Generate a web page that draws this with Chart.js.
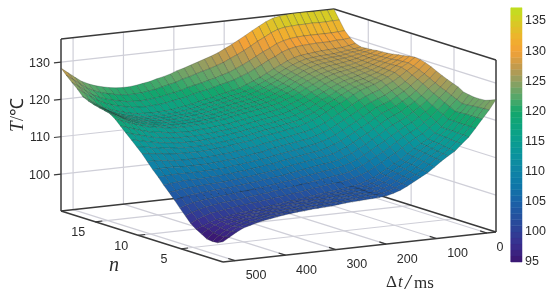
<!DOCTYPE html>
<html>
<head>
<meta charset="utf-8">
<style>
  html, body { margin: 0; background: #fff; }
  canvas { display: block; }
</style>
<script src="https://cdn.jsdelivr.net/npm/chart.js@4"></script>
</head>
<body>
<canvas id="chart" width="550" height="299"></canvas>
<script>
// tick labels
const tempTicks = [100, 110, 120, 130];
const nTicks = [5, 10, 15];
const dtTicks = [0, 100, 200, 300, 400, 500];
const barTicks = [95, 100, 105, 110, 115, 120, 125, 130, 135];

// axis limits
const dtLimits = [-18, 524];
const nLimits = [0.1, 19];
const tempLimits = [90.1, 136.2];

// surface mesh positions
const dtGrid = [524,510.5,496.9,483.4,469.8,456.3,442.7,429.2,415.6,402.1,388.5,375,361.4,347.9,334.3,320.8,307.2,293.7,280.1,266.6,253,239.5,225.9,212.4,198.8,185.3,171.7,158.2,144.6,131.1,117.5,104,90.4,76.9,63.3,49.8,36.2,22.7,9.1,-4.4,-18];
const nGrid = [19,18.37,17.74,17.11,16.48,15.85,15.22,14.59,13.96,13.33,12.7,12.07,11.44,10.81,10.18,9.55,8.92,8.29,7.66,7.03,6.4,5.77,5.14,4.51,3.88,3.25,2.62,1.99,1.36,0.73,0.1];

// T, one row per n, one column per dt
const tempRows = [
[128.4,127,125.6,124.3,123.4,122.7,122.2,121.8,121.5,121.4,121.4,121.6,121.9,122.2,122.7,123.1,123.6,124.3,124.8,125.4,126,126.6,127.2,127.9,128.8,129.7,130.7,131.7,132.8,133.8,134.8,135.5,135.9,136.1,136.2,136.2,136.2,136.1,136.1,136.1,136.1],
[126.9,125.6,124.2,122.9,122,121.3,120.8,120.4,120.1,119.9,119.9,120,120.3,120.5,121,121.4,121.8,122.5,122.9,123.5,124,124.5,125.1,125.7,126.6,127.4,128.3,129.3,130.4,131.3,132.3,133,133.4,133.5,133.6,133.6,133.7,133.6,133.6,133.7,133.7],
[125.5,124.2,122.9,121.6,120.7,120,119.5,119.1,118.7,118.6,118.5,118.6,118.8,119,119.4,119.7,120.1,120.7,121.1,121.5,122,122.4,123,123.5,124.3,125.1,126,127,128,128.8,129.8,130.4,130.8,131,131.1,131.1,131.1,131.1,131.1,131.2,131.3],
[124.2,123,121.7,120.5,119.6,118.9,118.4,118,117.6,117.5,117.4,117.5,117.6,117.8,118.2,118.5,118.8,119.4,119.8,120.1,120.6,121.1,121.5,122,122.7,123.4,124.3,125.2,126.2,127,128,128.6,129,129.2,129.3,129.4,129.4,129.4,129.6,129.6,129.8],
[122.6,121.4,120.3,119.1,118.3,117.7,117.2,116.7,116.4,116.3,116.2,116.2,116.3,116.4,116.7,117,117.3,117.8,118.2,118.5,119,119.4,119.8,120.2,121,121.7,122.5,123.4,124.4,125.2,126.1,126.8,127.2,127.4,127.6,127.8,127.9,128,128.1,128.4,128.8],
[121.9,120.8,119.7,118.6,117.8,117.2,116.7,116.3,116,115.9,115.8,115.8,116,116.1,116.4,116.7,117,117.5,117.8,118.2,118.6,119,119.3,119.8,120.5,121.2,122,122.8,123.8,124.7,125.5,126.2,126.7,126.9,127.1,127.2,127.3,127.5,127.8,128,128.3],
[121.4,120.4,119.4,118.4,117.6,117,116.6,116.2,115.9,115.8,115.7,115.7,115.9,116,116.2,116.5,116.8,117.3,117.6,118,118.3,118.7,119,119.5,120.1,120.8,121.6,122.4,123.4,124.3,125.1,125.8,126.3,126.6,126.8,127,127.1,127.4,127.8,128,128.4],
[121,120.1,119.1,118.1,117.4,116.8,116.4,116.1,115.8,115.7,115.6,115.6,115.8,115.9,116.1,116.3,116.6,117.1,117.4,117.7,118.1,118.4,118.8,119.2,119.8,120.5,121.2,122,123,123.9,124.8,125.5,126,126.3,126.5,126.8,127,127.3,127.7,128.1,128.5],
[120.7,119.7,118.9,117.9,117.2,116.7,116.3,115.9,115.7,115.6,115.5,115.5,115.6,115.7,115.9,116.2,116.4,116.8,117.1,117.5,117.8,118.2,118.5,118.9,119.4,120.1,120.9,121.7,122.7,123.6,124.4,125.1,125.6,126,126.2,126.5,126.8,127.2,127.7,128.1,128.7],
[120.3,119.3,118.5,117.6,117,116.5,116.1,115.8,115.5,115.4,115.4,115.4,115.5,115.6,115.8,116,116.2,116.6,116.9,117.3,117.6,117.9,118.2,118.6,119.1,119.8,120.5,121.3,122.3,123.2,124,124.7,125.2,125.6,125.9,126.2,126.6,127.1,127.6,128.1,128.8],
[119.3,118.6,117.9,117.2,116.6,116.2,115.9,115.6,115.3,115.2,115.1,115.2,115.3,115.4,115.6,115.8,116,116.4,116.7,117,117.3,117.6,117.9,118.2,118.7,119.4,120.1,120.9,121.9,122.7,123.6,124.3,124.9,125.3,125.6,126,126.4,127,127.6,128.2,128.9],
[117.9,117.3,116.7,116.1,115.6,115.2,115,114.7,114.5,114.4,114.3,114.5,114.6,114.7,114.9,115.1,115.3,115.7,116,116.3,116.6,116.9,117.3,117.6,118.1,118.8,119.5,120.3,121.3,122.1,123.1,123.8,124.5,124.9,125.3,125.8,126.2,126.9,127.6,128.3,129.1],
[116.5,116,115.5,115,114.5,114.2,114,113.8,113.6,113.6,113.6,113.7,113.8,114,114.2,114.4,114.6,115,115.4,115.7,116,116.3,116.6,116.9,117.5,118.1,118.9,119.7,120.7,121.6,122.5,123.3,124,124.5,125,125.5,126.1,126.8,127.7,128.4,129.4],
[115.1,114.7,114.3,113.9,113.5,113.3,113.1,112.9,112.8,112.8,112.8,113,113.1,113.3,113.5,113.8,114,114.4,114.7,115,115.3,115.6,116,116.3,116.8,117.5,118.2,119.2,120.2,121,122,122.9,123.6,124.2,124.6,125.3,125.9,126.8,127.7,128.6,129.6],
[113.7,113.4,113.1,112.8,112.5,112.3,112.2,112,112,112,112,112.2,112.4,112.5,112.8,113.1,113.3,113.7,114.1,114.4,114.7,115,115.4,115.7,116.2,116.9,117.6,118.6,119.6,120.5,121.5,122.4,123.2,123.8,124.3,125,125.8,126.7,127.8,128.7,129.9],
[112.3,112.1,111.9,111.7,111.4,111.3,111.2,111.2,111.1,111.2,111.3,111.5,111.6,111.9,112.1,112.4,112.6,113.1,113.4,113.7,114,114.3,114.7,115,115.6,116.2,117,118,119,119.9,120.9,121.9,122.8,123.4,124,124.8,125.6,126.6,127.8,128.8,130.1],
[110.6,110.6,110.5,110.3,110.1,110,110,110,110,110.1,110.2,110.4,110.5,110.8,111,111.3,111.5,112,112.3,112.6,112.9,113.2,113.6,113.9,114.4,115,115.8,116.8,117.8,118.7,119.8,120.8,121.7,122.4,123,124.1,124.9,126,127.3,128.4,129.9],
[108.9,109,109,109,108.8,108.8,108.8,108.8,108.8,109,109.1,109.3,109.4,109.7,109.9,110.2,110.4,110.9,111.2,111.5,111.8,112.1,112.4,112.7,113.2,113.9,114.6,115.6,116.6,117.6,118.6,119.7,120.6,121.3,122,123,123.9,125.1,126.6,127.9,129.5],
[107.4,107.5,107.6,107.6,107.6,107.6,107.6,107.7,107.7,107.8,107.9,108.2,108.3,108.6,108.8,109.1,109.3,109.7,110,110.3,110.6,110.9,111.3,111.6,112.1,112.7,113.5,114.5,115.5,116.4,117.5,118.5,119.6,120.3,121,122.1,123.1,124.4,125.9,127.2,128.9],
[105.7,105.9,106.1,106.3,106.3,106.3,106.4,106.5,106.5,106.7,106.8,107.1,107.2,107.5,107.7,108,108.2,108.6,108.9,109.2,109.5,109.8,110.1,110.4,110.9,111.6,112.3,113.3,114.3,115.3,116.3,117.4,118.5,119.2,120,121.1,122.2,123.5,125.2,126.5,128.2],
[104.2,104.4,104.7,104.9,105,105.1,105.2,105.3,105.4,105.6,105.7,106,106.1,106.4,106.6,106.9,107.1,107.5,107.8,108.1,108.4,108.7,109,109.3,109.7,110.4,111.1,112.1,113.1,114.1,115.2,116.3,117.4,118.2,119,120.2,121.3,122.7,124.3,125.7,127.5],
[102.6,103,103.4,103.6,103.8,103.9,104.1,104.2,104.3,104.5,104.7,104.9,105.1,105.4,105.6,105.8,106,106.4,106.7,107,107.3,107.6,107.9,108.1,108.5,109.2,109.9,110.9,111.9,113,114,115.2,116.3,117.1,118,119.2,120.4,121.9,123.5,125,126.9],
[100.9,101.5,102,102.3,102.5,102.7,102.9,103.1,103.2,103.5,103.6,103.9,104,104.3,104.5,104.8,105,105.3,105.6,105.9,106.2,106.5,106.7,107,107.4,108,108.7,109.7,110.7,111.8,112.8,114,115.1,116.1,117,118.2,119.5,121,122.8,124.4,126.3],
[99.3,100,100.6,101.1,101.3,101.6,101.8,102,102.1,102.4,102.6,102.8,103,103.3,103.5,103.7,103.9,104.3,104.5,104.8,105,105.3,105.6,105.8,106.2,106.9,107.6,108.6,109.6,110.6,111.7,112.9,114,115,115.9,117.3,118.6,120.2,122,123.7,125.8],
[97.7,98.6,99.3,99.9,100.1,100.4,100.7,100.9,101.1,101.4,101.5,101.8,102,102.2,102.4,102.7,102.9,103.2,103.5,103.7,104,104.2,104.4,104.7,105.1,105.7,106.4,107.4,108.4,109.5,110.5,111.7,112.9,114,114.9,116.3,117.6,119.4,121.3,123.1,124.9],
[96.6,97.3,98,98.6,98.9,99.3,99.6,99.8,100,100.3,100.5,100.7,100.9,101.2,101.4,101.6,101.8,102.1,102.4,102.6,102.8,103.1,103.3,103.5,103.9,104.5,105.2,106.2,107.2,108.3,109.3,110.6,111.8,112.9,113.9,115.3,116.7,118.6,120.5,122.4,124.6],
[95.8,96.9,97.8,98.5,98.9,99.2,99.6,99.8,100.1,100.3,100.6,100.8,101,101.3,101.5,101.6,101.8,102.1,102.4,102.6,102.7,103,103.2,103.4,103.7,104.3,105,106,107,108,109,110.3,111.6,112.7,113.7,115.2,116.6,118.6,120.6,122.5,124.4],
[94.9,96.4,97.5,98.3,98.8,99.2,99.6,99.9,100.1,100.4,100.7,100.9,101.1,101.4,101.6,101.7,101.9,102.1,102.3,102.5,102.7,102.9,103.1,103.3,103.6,104.1,104.8,105.8,106.8,107.8,108.8,110.1,111.4,112.5,113.6,115.1,116.6,118.5,120.7,122.7,124.4],
[94.7,96.1,97.3,98.2,98.8,99.3,99.7,100,100.3,100.6,100.8,101,101.2,101.4,101.6,101.8,101.9,102.1,102.3,102.5,102.6,102.8,103,103.1,103.3,103.9,104.5,105.4,106.5,107.5,108.5,109.8,111.1,112.2,113.3,114.9,116.5,118.5,120.7,122.8,124.5],
[94.8,96.2,97.4,98.4,98.9,99.4,99.8,100.2,100.4,100.7,100.9,101.1,101.3,101.5,101.6,101.8,101.9,102.1,102.2,102.4,102.5,102.7,102.9,103,103.2,103.7,104.3,105.2,106.2,107.2,108.2,109.5,110.9,112,113.1,114.8,116.4,118.5,120.7,122.9,125],
[95.5,96.6,97.7,98.6,99.1,99.6,100,100.3,100.6,100.9,101.1,101.3,101.4,101.6,101.7,101.8,101.9,102.1,102.3,102.4,102.5,102.6,102.7,102.8,103,103.5,104.1,105,106,107,108,109.3,110.7,111.9,113,114.7,116.3,118.5,120.8,123,125.6]
];

// colour bar levels and the colours at the stops of the map
const barLevels = [95,96,97,98,99,100,101,102,103,104,105,106,107,108,109,110,111,112,113,114,115,116,117,118,119,120,121,122,123,124,125,126,127,128,129,130,131,132,133,134,135,136,137,137.2];
const colorLevels = [95, 98, 100, 105, 108, 110, 113, 116, 120, 122, 125, 127, 130, 132, 135, 137.2];
const colorHex = ['#3b1470','#3a2f8f','#2f3f96','#1a62a8','#0d7aa8','#0f83a6','#0a959c','#0aa18a','#13a76b','#4da86a','#8f9f62','#b99a50','#f3a137','#f0b02e','#d6cc24','#bfe020'];

function hexToRgb(h) {
  return [parseInt(h.slice(1, 3), 16), parseInt(h.slice(3, 5), 16), parseInt(h.slice(5, 7), 16)];
}

function tempColor(t) {
  let i = 0;
  while (i < colorLevels.length - 2 && t > colorLevels[i + 1]) i++;
  const f = Math.min(1, Math.max(0, (t - colorLevels[i]) / (colorLevels[i + 1] - colorLevels[i])));
  const a = hexToRgb(colorHex[i]);
  const b = hexToRgb(colorHex[i + 1]);
  return 'rgb(' + a.map((v, k) => Math.round(v + (b[k] - v) * f)).join(',') + ')';
}

// oblique view of the box, result goes through the chart's x and y scales
function project(dt, n, t) {
  const u = (dtLimits[1] - dt) / (dtLimits[1] - dtLimits[0]);
  const v = (n - nLimits[0]) / (nLimits[1] - nLimits[0]);
  const w = (t - tempLimits[0]) / (tempLimits[1] - tempLimits[0]);
  return { x: 223 + 273 * u - 162 * v, y: 262 - 30 * u - 51 * v - 172 * w };
}

function lineSet(a, b, color, width) {
  return { data: [a, b], showLine: true, fill: false, borderColor: color, borderWidth: width, pointRadius: 0 };
}

const [dtLo, dtHi] = dtLimits;
const [nLo, nHi] = nLimits;
const [tLo, tHi] = tempLimits;
const gridColor = '#cfcfd8';
const boxColor = '#3a3a3a';
const sets = [];

// back walls and floor grid
dtTicks.forEach(d => {
  sets.push(lineSet(project(d, nHi, tLo), project(d, nHi, tHi), gridColor, 1.2));
  sets.push(lineSet(project(d, nLo, tLo), project(d, nHi, tLo), gridColor, 1.2));
});
nTicks.forEach(n => {
  sets.push(lineSet(project(dtLo, n, tLo), project(dtLo, n, tHi), gridColor, 1.2));
  sets.push(lineSet(project(dtLo, n, tLo), project(dtHi, n, tLo), gridColor, 1.2));
});
tempTicks.forEach(t => {
  sets.push(lineSet(project(dtHi, nHi, t), project(dtLo, nHi, t), gridColor, 1.2));
  sets.push(lineSet(project(dtLo, nHi, t), project(dtLo, nLo, t), gridColor, 1.2));
});

// box edges
[
  [[dtHi, nHi, tLo], [dtHi, nHi, tHi]],
  [[dtHi, nHi, tHi], [dtLo, nHi, tHi]],
  [[dtLo, nHi, tHi], [dtLo, nLo, tHi]],
  [[dtLo, nLo, tHi], [dtLo, nLo, tLo]],
  [[dtHi, nHi, tLo], [dtLo, nHi, tLo]],
  [[dtLo, nHi, tLo], [dtLo, nLo, tLo]],
  [[dtHi, nHi, tLo], [dtHi, nLo, tLo]],
  [[dtHi, nLo, tLo], [dtLo, nLo, tLo]]
].forEach(e => sets.push(lineSet(project(...e[0]), project(...e[1]), boxColor, 1.5)));

// tick marks
tempTicks.forEach(t => sets.push(lineSet(project(dtHi, nHi, t), project(dtHi + 14, nHi, t), boxColor, 1.2)));
dtTicks.forEach(d => sets.push(lineSet(project(d, nLo, tLo), project(d, nLo + 0.8, tLo), boxColor, 1.2)));
nTicks.forEach(n => sets.push(lineSet(project(dtHi, n, tLo), project(dtHi - 14, n, tLo), boxColor, 1.2)));

// surface cells, far corner first so nearer cells paint over
tempRows.forEach((row, r) => {
  if (r === tempRows.length - 1) return;
  for (let c = row.length - 2; c >= 0; c--) {
    const next = tempRows[r + 1];
    const mean = (row[c] + row[c + 1] + next[c] + next[c + 1]) / 4;
    const corner = project(dtGrid[c], nGrid[r], row[c]);
    sets.push({
      data: [corner, project(dtGrid[c + 1], nGrid[r], row[c + 1]), project(dtGrid[c + 1], nGrid[r + 1], next[c + 1]), project(dtGrid[c], nGrid[r + 1], next[c]), corner],
      showLine: true,
      fill: 'shape',
      backgroundColor: tempColor(mean),
      borderColor: 'rgba(35,45,45,0.36)',
      borderWidth: 0.7,
      pointRadius: 0
    });
  }
});

// colour bar
barLevels.slice(0, -1).forEach((lv, i) => {
  const top = barLevels[i + 1];
  const color = tempColor((lv + top) / 2);
  sets.push({
    yAxisID: 'bar',
    data: [{ x: 511, y: lv }, { x: 522, y: lv }, { x: 522, y: top }, { x: 511, y: top }, { x: 511, y: lv }],
    showLine: true,
    fill: 'shape',
    backgroundColor: color,
    borderColor: color,
    borderWidth: 0.5,
    pointRadius: 0
  });
});

const sans = '"Liberation Sans", Arial, sans-serif';
const serif = '"Liberation Serif", "Times New Roman", serif';

const labelPlugin = {
  id: 'labels',
  afterDraw(chart) {
    const { ctx, scales } = chart;
    const px = p => ({ x: scales.x.getPixelForValue(p.x), y: scales.y.getPixelForValue(p.y) });
    ctx.save();
    ctx.fillStyle = '#2b2b2b';
    ctx.textBaseline = 'middle';
    ctx.font = '12.5px ' + sans;

    ctx.textAlign = 'right';
    tempTicks.forEach(t => {
      const p = px(project(dtHi + 22, nHi, t));
      ctx.fillText(String(t), p.x, p.y);
    });

    ctx.textAlign = 'center';
    nTicks.forEach(n => {
      const p = px(project(dtHi, n, tLo));
      ctx.fillText(String(n), p.x - 17, p.y + 11);
    });
    dtTicks.forEach(d => {
      const p = px(project(d, nLo, tLo));
      ctx.fillText(String(d), p.x + (d === 0 ? 13 : 21), p.y + 15);
    });

    ctx.textAlign = 'left';
    barTicks.forEach(t => ctx.fillText(String(t), 525, scales.bar.getPixelForValue(t)));

    // axis titles
    ctx.textAlign = 'center';
    ctx.font = 'italic 20px ' + serif;
    ctx.fillText('n', 114, 266);

    ctx.textAlign = 'left';
    ctx.font = '17px ' + serif;
    ctx.fillText('Δ', 386, 283);
    ctx.font = 'italic 17px ' + serif;
    ctx.fillText('t', 398, 283);
    ctx.font = 'italic 21px ' + serif;
    ctx.fillText('/', 405, 283);
    ctx.font = '17px ' + serif;
    ctx.fillText('ms', 414, 284);

    ctx.translate(18, 115);
    ctx.rotate(-Math.PI / 2);
    ctx.font = 'italic 19px ' + serif;
    ctx.fillText('T', -17, 0);
    ctx.font = '18px ' + serif;
    ctx.fillText('/℃', -6, 0);
    ctx.restore();
  }
};

new Chart(document.getElementById('chart').getContext('2d'), {
  type: 'scatter',
  data: { datasets: sets.reverse() },
  options: {
    responsive: false,
    animation: false,
    events: [],
    layout: { padding: 0 },
    elements: { line: { tension: 0 } },
    plugins: { legend: { display: false }, tooltip: { enabled: false } },
    scales: {
      x: { type: 'linear', min: 0, max: 550, display: false },
      y: { type: 'linear', min: 0, max: 299, reverse: true, display: false },
      bar: { type: 'linear', min: 88.86, max: 138.49, display: false }
    }
  },
  plugins: [labelPlugin]
});
</script>
</body>
</html>
